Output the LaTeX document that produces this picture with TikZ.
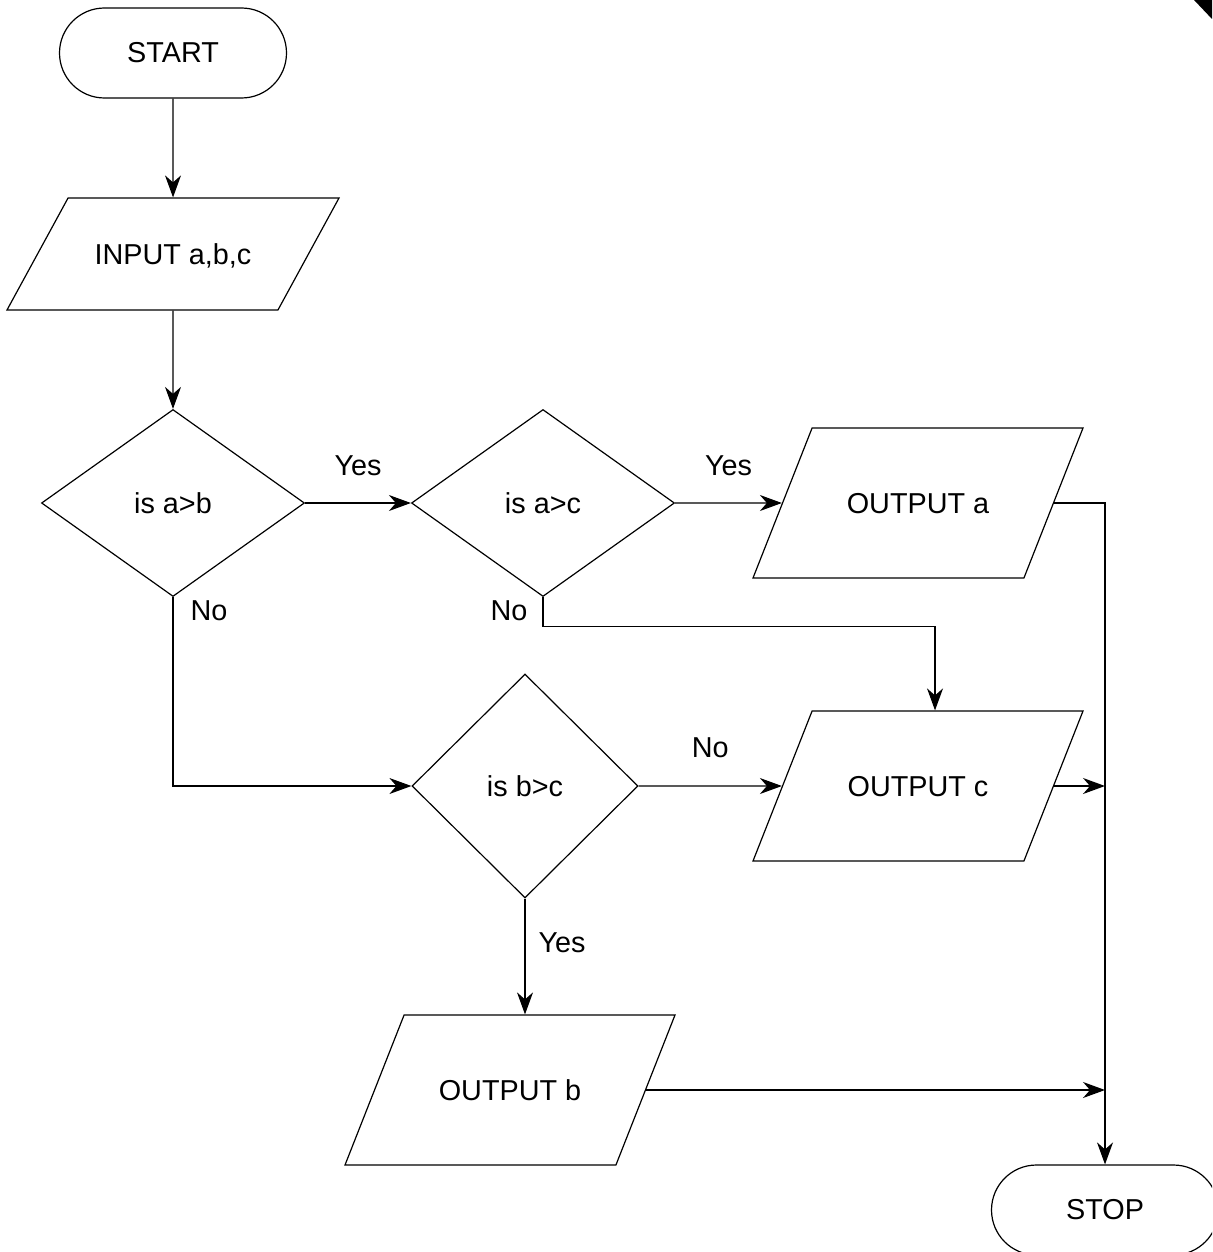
\documentclass[tikz,border=0pt]{standalone}
\usepackage{fontspec}
\setmainfont{Liberation Sans}
\usetikzlibrary{shapes.geometric}
\usetikzlibrary{arrows.meta}

\begin{document}
\begin{tikzpicture}[x=0.5pt, y=-0.5pt,
		font=\fontsize{14.4}{17}\selectfont,
		terminal/.style={draw, line width=0.6pt, rectangle, rounded corners=22.5pt,
			minimum width=113.5pt, minimum height=45pt},
		io/.style={draw, line width=0.6pt, trapezium, trapezium stretches body=true,
			trapezium left angle=68.5, trapezium right angle=111.5,
			text height=10pt, text depth=0pt, inner ysep=32.5pt, minimum width=165pt},
		decision/.style={draw, line width=0.6pt, diamond, inner sep=0pt,
			minimum width=131.5pt, minimum height=93.5pt},
		link/.style={draw, line width=0.6pt, -{Stealth[length=11pt, width=8pt, inset=3.5pt]}}]
			\useasboundingbox (0,0) rectangle (1212,1252);
			\clip (0,0) rectangle (1212,1252);
			
			\node[terminal] (start) at (173,53) {START};
			\node[io, trapezium left angle=61.4, trapezium right angle=118.6,
				inner ysep=23pt, minimum width=166pt] (inp) at (173,254) {INPUT a,b,c};
			\node[decision] (isab) at (173,503) {is a>b};
			\node[decision] (isac) at (543,503) {is a>c};
			\node[decision, minimum width=113pt, minimum height=112pt] (isbc) at (525,786) {is b>c};
			\node[io] (outa) at (918,503) {OUTPUT a};
			\node[io] (outc) at (918,786) {OUTPUT c};
			\node[io] (outb) at (510,1090) {OUTPUT b};
			\node[terminal] (stop) at (1105,1210) {STOP};
			
			\draw[link] (start) -- (inp);
			\draw[link] (inp) -- (isab);
			\draw[link] (isab) -- node[yshift=18.5pt] {Yes} (isac);
			\draw[link] (isac) -- node[yshift=18.5pt] {Yes} (outa);
			\draw[link] (isbc) -- node[yshift=19pt] {No} (outc);
			\draw[link] (isab.south) node[xshift=18pt, yshift=-7pt] {No} |- (isbc.west);
			\draw[link] (isac.south) node[xshift=-17pt, yshift=-7pt] {No} -- ++(0,29) -| ([xshift=8.5pt]outc.north);
			\draw[link] (isbc) -- node[xshift=18.5pt, yshift=7pt] {Yes} (isbc.south |- outb.north);
			\draw[link] (outa.east) -| (stop.north);
			\draw[link] (outc.east) -- (outc.east -| stop.north);
			\draw[link] (outb.east) -- (outb.east -| stop.north);
			
			\fill (1194,0) -- (1212,0) -- (1212,19) -- cycle;
		\end{tikzpicture}
\end{document}
